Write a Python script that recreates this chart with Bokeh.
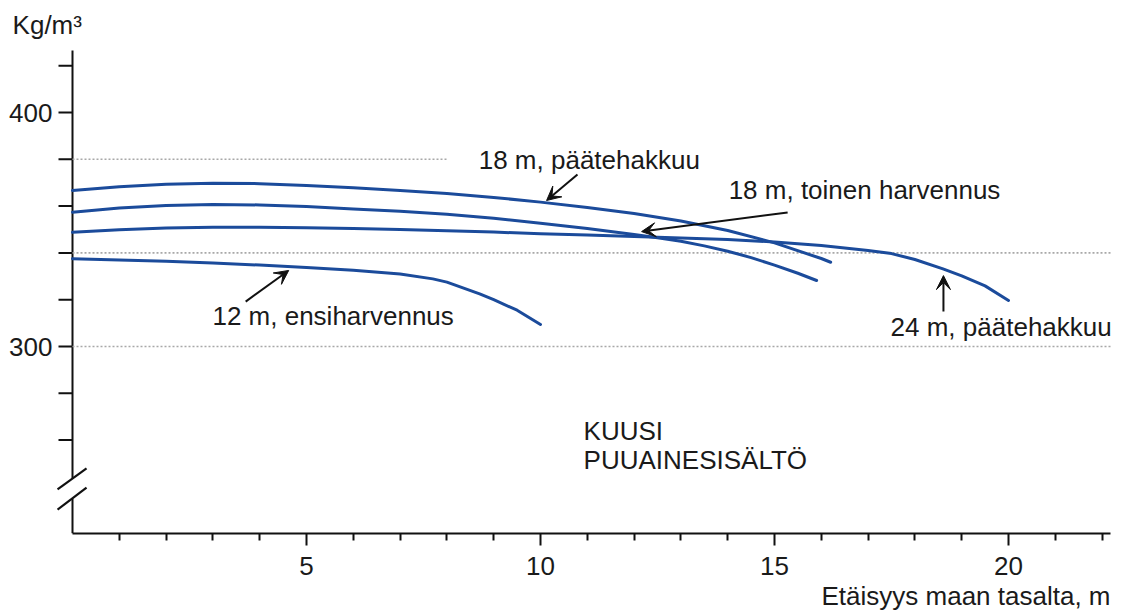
from bokeh.plotting import figure
from bokeh.models import Arrow, VeeHead, FixedTicker, Title
from bokeh.core.properties import value
from bokeh.embed import file_html
from bokeh.resources import INLINE

# ---- data ----
# 18 m, päätehakkuu
x_18p = [0, 1, 2, 3, 4, 5, 6, 7, 8, 9, 10, 11, 12, 13, 14, 15, 16, 16.2]
y_18p = [366.7, 368.3, 369.3, 369.8, 369.6, 368.8, 367.8, 366.7, 365.4, 363.7,
         361.7, 359.4, 356.8, 353.6, 349.6, 344.3, 337.6, 336.0]
# 18 m, toinen harvennus
x_18t = [0, 1, 2, 3, 4, 5, 6, 7, 8, 9, 10, 11, 12, 12.5, 13, 13.5, 14, 14.5,
         15, 15.5, 15.9]
y_18t = [357.4, 359.2, 360.3, 360.7, 360.5, 359.8, 358.8, 357.8, 356.5, 354.8,
         352.7, 350.4, 347.9, 346.5, 345.0, 343.0, 340.7, 338.0, 334.8, 331.3,
         328.2]
# 24 m, päätehakkuu
x_24p = [0, 1, 2, 3, 4, 5, 6, 7, 8, 9, 10, 11, 12, 13, 14, 15, 16, 17, 17.5,
         18, 18.6, 19, 19.5, 20]
y_24p = [348.8, 349.9, 350.6, 351.0, 351.0, 350.8, 350.4, 350.0, 349.5, 348.9,
         348.2, 347.6, 347.0, 346.4, 345.7, 344.7, 343.2, 341.0, 339.7,
         337.2, 333.2, 330.2, 325.9, 319.7]
# 12 m, ensiharvennus
x_12e = [0, 1, 2, 3, 4, 5, 6, 7, 7.7, 8, 8.7, 9, 9.5, 10]
y_12e = [337.5, 337.0, 336.4, 335.7, 334.8, 333.8, 332.6, 331.0, 328.9, 327.5,
         322.5, 320.0, 315.5, 309.4]

y_ticks = [260, 280, 300, 320, 340, 360, 380, 400, 420]
y_label_values = [300, 400]
y_label_texts = ["300", "400"]
x_major = [5, 10, 15, 20]
x_minor = [1, 2, 3, 4, 6, 7, 8, 9, 11, 12, 13, 14, 16, 17, 18, 19, 21, 22]

grid_levels = [380, 340, 300]
grid_ends = [8.0, 22.18, 22.18]

FONT = "Liberation Sans"
FS = "26px"
TXT = "#1a1a1a"
BLUE = "#1b4b9b"
INK = "#111111"

PXU = 46.8          # pixels per x unit
X0 = 72             # pixel of x = 0
YB = 533            # pixel of frame bottom
Y400 = 112          # pixel of y = 400
PYU = 2.34          # pixels per y unit

x_start = -X0 / PXU
x_end = (1122 - X0) / PXU
y_start = 400 - (YB - Y400) / PYU
y_end = 400 + Y400 / PYU

p = figure(width=1122, height=611, x_range=(x_start, x_end),
           y_range=(y_start, y_end), y_axis_location=None,
           min_border_left=0, min_border_right=0, min_border_top=0,
           min_border_bottom=611 - YB, output_backend="svg",
           toolbar_location=None)
p.outline_line_color = None
p.grid.visible = False

# x axis
xa = p.xaxis[0]
xa.bounds = (0, 22.18)
xa.ticker = FixedTicker(ticks=x_major, minor_ticks=x_minor)
xa.axis_line_width = 2
xa.axis_line_color = INK
xa.major_tick_line_width = 2
xa.major_tick_line_color = INK
xa.major_tick_out = 12
xa.major_tick_in = 0
xa.minor_tick_line_width = 2
xa.minor_tick_line_color = INK
xa.minor_tick_out = 7
xa.minor_tick_in = 0
xa.major_label_text_font = FONT
xa.major_label_text_font_size = FS
xa.major_label_text_color = TXT
xa.major_label_standoff = 11

p.add_layout(Title(text="Etäisyys maan tasalta, m", align="right", offset=12,
                   standoff=2, text_font=FONT, text_font_size=FS,
                   text_font_style="normal", text_color=TXT), "below")

# y axis (drawn in data space so that the break can cross it)
p.segment(x0=[0, 0], y0=[y_end - 21.4, 235.0], x1=[0, 0], y1=[243.6, y_start],
          line_color=INK, line_width=2)
p.segment(x0=[-14 / PXU] * len(y_ticks), y0=y_ticks, x1=[0] * len(y_ticks),
          y1=y_ticks, line_color=INK, line_width=2)
p.segment(x0=[-0.32, -0.32], y0=[238.9, 230.3], x1=[0.30, 0.30],
          y1=[247.9, 239.7], line_color=INK, line_width=2.2)
p.text(x=[-20 / PXU] * len(y_label_values), y=y_label_values,
       text=y_label_texts, text_font=value(FONT), text_font_size=FS,
       text_color=TXT, text_align="right", text_baseline="middle")

# dotted reference lines
for lvl, xe in zip(grid_levels, grid_ends):
    p.line([0, xe], [lvl, lvl], line_color="#a8a8a8", line_width=1.6,
           line_dash="2 2")

# curves
for xs, ys in [(x_18p, y_18p), (x_18t, y_18t), (x_24p, y_24p), (x_12e, y_12e)]:
    p.line(xs, ys, line_color=BLUE, line_width=3, line_join="round",
           line_cap="round")

# annotation arrows
def arr(x0, y0, x1, y1):
    p.add_layout(Arrow(end=VeeHead(size=14, fill_color=INK, line_color=INK,
                                   line_width=1),
                       x_start=x0, y_start=y0, x_end=x1, y_end=y1,
                       line_width=2, line_color=INK))

arr(10.79, 373.5, 10.13, 362.4)
arr(15.28, 357.3, 12.16, 349.1)
arr(18.61, 315.0, 18.61, 330.3)
arr(3.70, 319.2, 4.62, 332.5)

lab_x = [8.68, 14.02, 17.48, 2.99, 10.92, 10.92, -1.28]
lab_y = [379.5, 366.7, 308.5, 313.2, 263.8, 251.3, 437.6]
lab_t = ["18 m, päätehakkuu", "18 m, toinen harvennus", "24 m, päätehakkuu",
         "12 m, ensiharvennus", "KUUSI", "PUUAINESISÄLTÖ", "Kg/m³"]
p.text(x=lab_x, y=lab_y, text=lab_t, text_font=value(FONT),
       text_font_size=FS, text_color=TXT, text_align="left",
       text_baseline="middle")

open("out.html", "w").write(file_html(p, INLINE))
